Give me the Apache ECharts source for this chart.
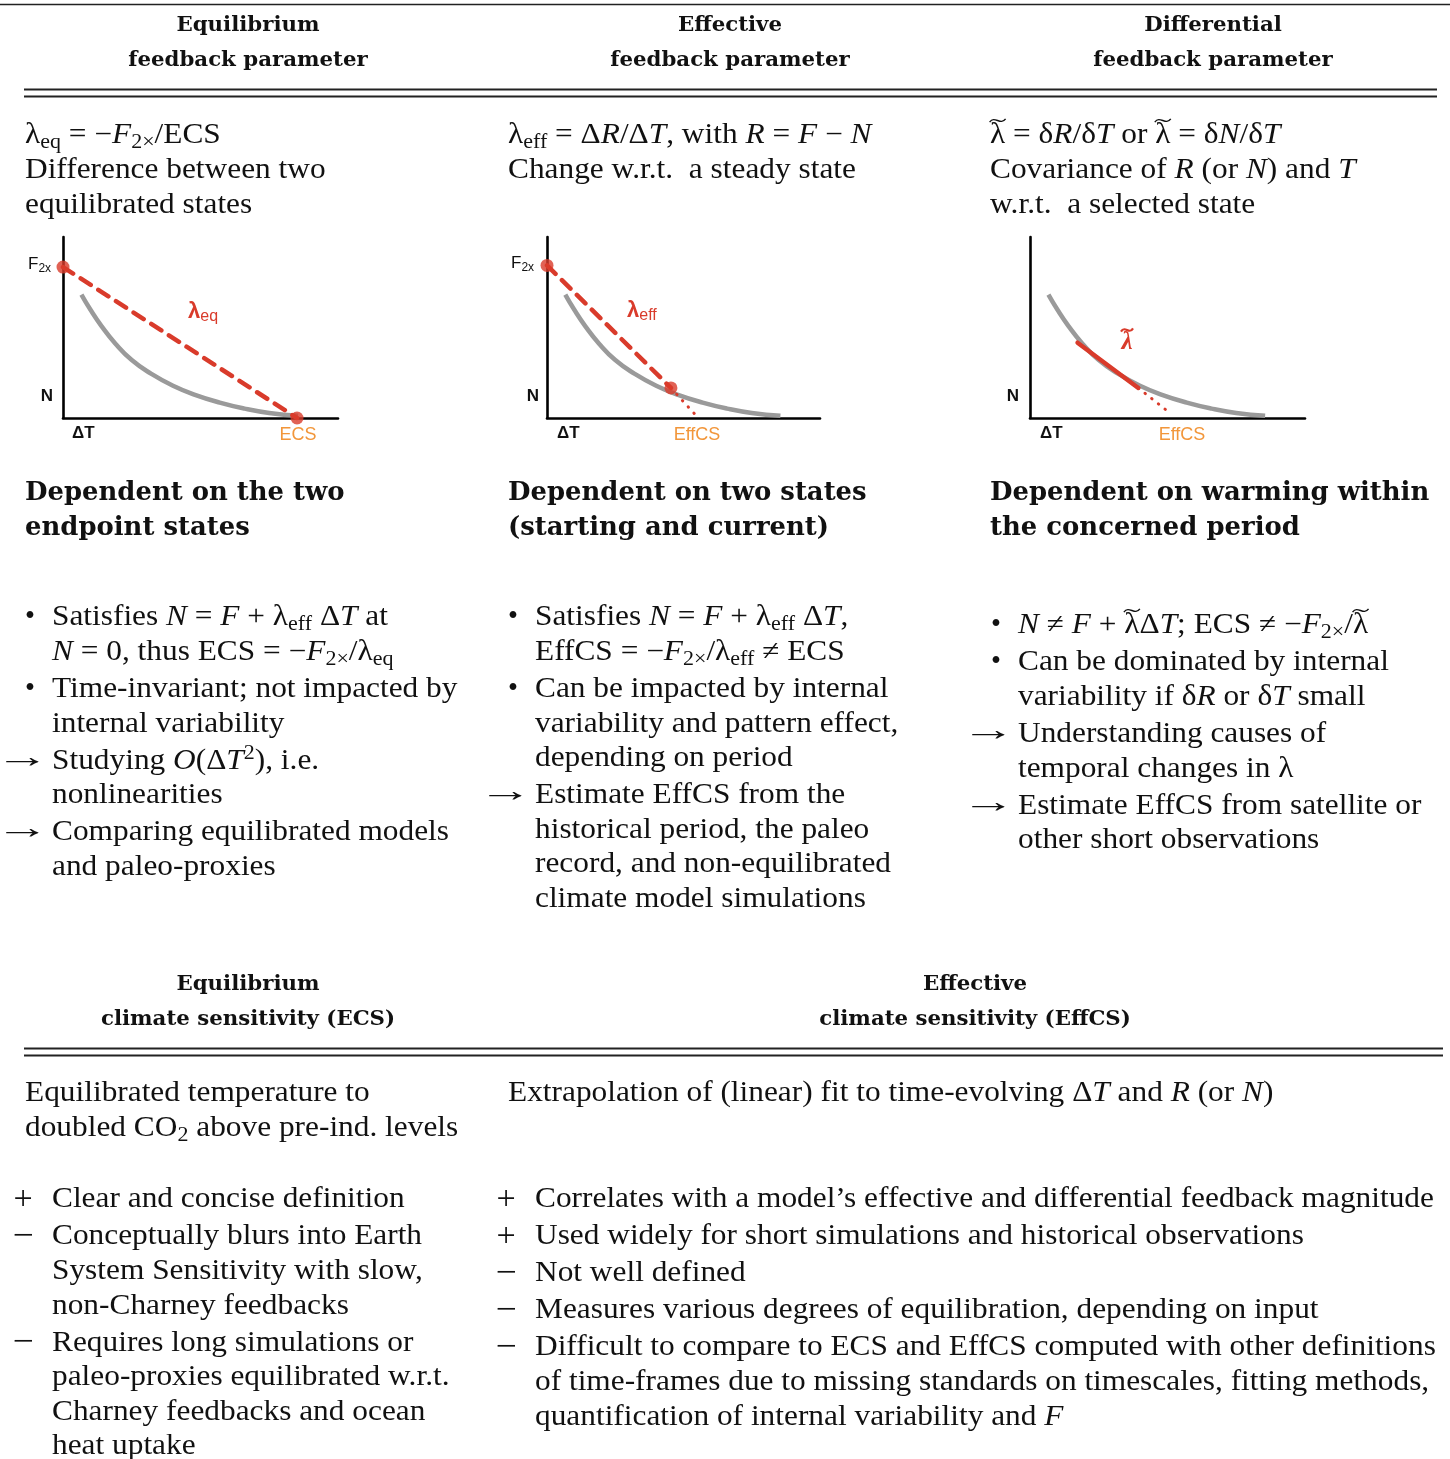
<!DOCTYPE html>
<html>
<head>
<meta charset="utf-8">
<script src="https://cdn.jsdelivr.net/npm/echarts@6/dist/echarts.min.js"></script>
<style>
  html, body { margin: 0; padding: 0; background: #fff; }
  #main { width: 1450px; height: 1459px; }
</style>
</head>
<body>
<div id="main"></div>
<script>
// ---- sketch data (both axes run 0..10, arbitrary units) ----
// radiative imbalance N against warming ΔT, shared by the three sketches
const responseCurve = [
  [0.67, 6.82], [1.0, 5.98], [1.4, 5.08], [1.9, 4.12], [2.5, 3.2],
  [3.2, 2.45], [4.0, 1.78], [4.8, 1.28], [5.7, 0.85], [6.6, 0.52],
  [7.5, 0.28], [8.55, 0.12]
];
// equilibrium: forcing intercept and equilibrium warming
const eqForcing = [0, 8.34];
const eqWarming = [8.51, 0];
// effective: forcing intercept, current state, extrapolation end
const effForcing = [0, 8.43];
const effState = [4.54, 1.66];
const effExtrapEnd = [5.40, 0.24];
// differential: local regression segment and its extrapolation end
const diffSegment = [[1.73, 4.16], [3.94, 1.66]];
const diffExtrapEnd = [5.15, 0.20];

// ---- table text ----
const topHeaders = [
  ['Equilibrium', 'feedback parameter'],
  ['Effective', 'feedback parameter'],
  ['Differential', 'feedback parameter']
];
const definitions = [
  ['λ{s|eq} = −{i|F}{s|2×}/ECS', 'Difference between two', 'equilibrated states'],
  ['λ{s|eff} = Δ{i|R}/Δ{i|T}, with {i|R} = {i|F} − {i|N}', 'Change w.r.t.  a steady state'],
  ['{t|λ} = δ{i|R}/δ{i|T} or {t|λ} = δ{i|N}/δ{i|T}', 'Covariance of {i|R} (or {i|N}) and {i|T}', 'w.r.t.  a selected state']
];
const dependence = [
  ['Dependent on the two', 'endpoint states'],
  ['Dependent on two states', '(starting and current)'],
  ['Dependent on warming within', 'the concerned period']
];
const feedbackProps = [
  [
    { mark: '•', lines: ['Satisfies {i|N} = {i|F} + λ{s|eff} Δ{i|T} at', '{i|N} = 0, thus ECS = −{i|F}{s|2×}/λ{s|eq}'] },
    { mark: '•', lines: ['Time-invariant; not impacted by', 'internal variability'] },
    { mark: '→', lines: ['Studying {i|O}(Δ{i|T}{p|2}), i.e.', 'nonlinearities'] },
    { mark: '→', lines: ['Comparing equilibrated models', 'and paleo-proxies'] }
  ],
  [
    { mark: '•', lines: ['Satisfies {i|N} = {i|F} + λ{s|eff} Δ{i|T},', 'EffCS = −{i|F}{s|2×}/λ{s|eff} ≠ ECS'] },
    { mark: '•', lines: ['Can be impacted by internal', 'variability and pattern effect,', 'depending on period'] },
    { mark: '→', lines: ['Estimate EffCS from the', 'historical period, the paleo', 'record, and non-equilibrated', 'climate model simulations'] }
  ],
  [
    { mark: '•', lines: ['{i|N} ≠ {i|F} + {t|λ}Δ{i|T}; ECS ≠ −{i|F}{s|2×}/{t|λ}'] },
    { mark: '•', lines: ['Can be dominated by internal', 'variability if δ{i|R} or δ{i|T} small'] },
    { mark: '→', lines: ['Understanding causes of', 'temporal changes in λ'] },
    { mark: '→', lines: ['Estimate EffCS from satellite or', 'other short observations'] }
  ]
];
const bottomHeaders = [
  ['Equilibrium', 'climate sensitivity (ECS)'],
  ['Effective', 'climate sensitivity (EffCS)']
];
const sensDefinitions = [
  ['Equilibrated temperature to', 'doubled CO{s|2} above pre-ind. levels'],
  ['Extrapolation of (linear) fit to time-evolving Δ{i|T} and {i|R} (or {i|N})']
];
const sensProps = [
  [
    { mark: '+', lines: ['Clear and concise definition'] },
    { mark: '−', lines: ['Conceptually blurs into Earth', 'System Sensitivity with slow,', 'non-Charney feedbacks'] },
    { mark: '−', lines: ['Requires long simulations or', 'paleo-proxies equilibrated w.r.t.', 'Charney feedbacks and ocean', 'heat uptake'] }
  ],
  [
    { mark: '+', lines: ['Correlates with a model’s effective and differential feedback magnitude'] },
    { mark: '+', lines: ['Used widely for short simulations and historical observations'] },
    { mark: '−', lines: ['Not well defined'] },
    { mark: '−', lines: ['Measures various degrees of equilibration, depending on input'] },
    { mark: '−', lines: ['Difficult to compare to ECS and EffCS computed with other definitions', 'of time-frames due to missing standards on timescales, fitting methods,', 'quantification of internal variability and {i|F}'] }
  ]
];

// ---- styling ----
const SERIF = '"Liberation Serif", "DejaVu Serif", serif';
const HEAD = '"DejaVu Serif", serif';
const SANS = '"Liberation Sans", Arial, sans-serif';
const INK = '#111';
const RED = '#d93b2b';
const ORANGE = '#f2963a';
const GRAY = '#9a9a9a';
const BODY = 28.5;
const BODY_SCALE = 1.1;
const SUB = Math.round(BODY * 0.7);

const baseFont = BODY + 'px ' + SERIF;
const bodyRich = {
  i: { font: 'italic ' + BODY + 'px ' + SERIF },
  t: { font: baseFont },
  s: { font: SUB + 'px ' + SERIF, verticalAlign: 'bottom', lineHeight: 18 },
  p: { font: SUB + 'px ' + SERIF, verticalAlign: 'top', lineHeight: 18 }
};

// width of a rich-markup string, used to put the tilde accents over λ
const measureCtx = document.createElement('canvas').getContext('2d');
function richWidth(markup) {
  let w = 0;
  const re = /\{(\w)\|([^}]*)\}|([^{]+)/g;
  let m;
  while ((m = re.exec(markup)) !== null) {
    measureCtx.font = m[1] ? bodyRich[m[1]].font : baseFont;
    w += measureCtx.measureText(m[1] ? m[2] : m[3]).width;
  }
  return w;
}
function tilde(cx, cy, half, color, width) {
  return {
    type: 'bezierCurve', silent: true, z: 11,
    shape: {
      x1: cx - half, y1: cy + 1.6, x2: cx + half, y2: cy - 1.6,
      cpx1: cx - half * 0.35, cpy1: cy - 5.5, cpx2: cx + half * 0.35, cpy2: cy + 5.5
    },
    style: { stroke: color, lineWidth: width, fill: null }
  };
}

function bodyText(x, y, text, out) {
  out.push({
    type: 'text', x: x, y: y, scaleX: BODY_SCALE, silent: true, z: 10,
    style: {
      text: text, font: baseFont, fill: INK,
      textAlign: 'left', textVerticalAlign: 'middle', lineHeight: 34, rich: bodyRich
    }
  });
  let idx = text.indexOf('{t|λ}');
  while (idx >= 0) {
    measureCtx.font = baseFont;
    const lw = measureCtx.measureText('λ').width;
    const cx = x + (richWidth(text.slice(0, idx)) + lw / 2) * BODY_SCALE;
    out.push(tilde(cx, y - 15.5, 8, INK, 1.4));
    idx = text.indexOf('{t|λ}', idx + 1);
  }
}
// list markers: bullet, arrow, plus, minus
const markStyle = {
  '•': { font: BODY + 'px ' + SERIF, scaleX: 1, offset: 22, dy: 0 },
  '→': { font: '32px ' + SERIF, scaleX: 1.7, offset: 30, dy: -3 },
  '+': { font: '34px ' + SERIF, scaleX: 1, offset: 29, dy: 0 },
  '−': { font: '34px ' + SERIF, scaleX: 1.1, offset: 29, dy: 0 }
};
function markText(x, y, mark) {
  const ms = markStyle[mark];
  return {
    type: 'text', x: x, y: y + ms.dy, scaleX: ms.scaleX, silent: true, z: 10,
    style: { text: mark, font: ms.font, fill: INK, textAlign: 'center', textVerticalAlign: 'middle' }
  };
}
function headText(x, y, text, size, align) {
  return {
    type: 'text', x: x, y: y, silent: true, z: 10,
    style: { text: text, font: 'bold ' + size + 'px ' + HEAD, fill: INK, textAlign: align, textVerticalAlign: 'middle' }
  };
}
function rule(x1, x2, y, w) {
  return { type: 'line', silent: true, shape: { x1: x1, y1: y, x2: x2, y2: y }, style: { stroke: '#222', lineWidth: w } };
}
function sansText(x, y, text, opts) {
  return {
    type: 'text', x: x, y: y, silent: true, z: 10,
    style: Object.assign({ text: text, fill: INK, textAlign: 'left', textVerticalAlign: 'middle' }, opts)
  };
}

function listBlock(items, textX, y0, out) {
  let y = y0;
  items.forEach(function (item, k) {
    if (k > 0) y += 37;
    item.lines.forEach(function (line, j) {
      if (j > 0) y += 34.6;
      if (j === 0) out.push(markText(textX - markStyle[item.mark].offset, y, item.mark));
      bodyText(textX, y, line, out);
    });
  });
}

const graphics = [];
// rules
graphics.push(rule(0, 1450, 4.5, 1.5));
graphics.push(rule(24, 1437, 89.5, 2));
graphics.push(rule(24, 1437, 96.5, 2));
graphics.push(rule(24, 1443, 1048.5, 2));
graphics.push(rule(24, 1443, 1055.5, 2));

// upper table
const headX = [248, 730, 1213];
const colX = [25, 508, 990];
const listX = [52, 535, 1018];
const HEAD_SIZE = 21.3;
const DEP_SIZE = 25.9;
topHeaders.forEach(function (h, c) {
  graphics.push(headText(headX[c], 25, h[0], HEAD_SIZE, 'center'));
  graphics.push(headText(headX[c], 60, h[1], HEAD_SIZE, 'center'));
});
definitions.forEach(function (lines, c) {
  lines.forEach(function (line, j) { bodyText(colX[c], 136 + j * 34.6, line, graphics); });
});
dependence.forEach(function (lines, c) {
  graphics.push(headText(colX[c], 493, lines[0], DEP_SIZE, 'left'));
  graphics.push(headText(colX[c], 528, lines[1], DEP_SIZE, 'left'));
});
listBlock(feedbackProps[0], listX[0], 618, graphics);
listBlock(feedbackProps[1], listX[1], 618, graphics);
listBlock(feedbackProps[2], listX[2], 626, graphics);

// lower table
const bHeadX = [248, 975];
bottomHeaders.forEach(function (h, c) {
  graphics.push(headText(bHeadX[c], 984, h[0], HEAD_SIZE, 'center'));
  graphics.push(headText(bHeadX[c], 1019, h[1], HEAD_SIZE, 'center'));
});
sensDefinitions.forEach(function (lines, c) {
  lines.forEach(function (line, j) { bodyText(colX[c], 1094 + j * 34.6, line, graphics); });
});
listBlock(sensProps[0], listX[0], 1200, graphics);
listBlock(sensProps[1], listX[1], 1200, graphics);

// sketch annotations
const axisFontBold = { font: 'bold 17px ' + SANS };
[[47, 72], [533, 557], [1013, 1040]].forEach(function (p) {
  graphics.push(sansText(p[0], 396, 'N', Object.assign({ textAlign: 'center' }, axisFontBold)));
  graphics.push(sansText(p[1], 433, 'ΔT', axisFontBold));
});
const forcingRich = { s: { font: '12px ' + SANS, fill: INK, verticalAlign: 'bottom', lineHeight: 12 } };
graphics.push(sansText(28, 264, 'F{s|2x}', { font: '17px ' + SANS, lineHeight: 22, rich: forcingRich }));
graphics.push(sansText(511, 263, 'F{s|2x}', { font: '17px ' + SANS, lineHeight: 22, rich: forcingRich }));
const lamRich = {
  l: { font: 'bold 22px ' + SANS, fill: RED },
  e: { font: '16px ' + SANS, fill: RED, verticalAlign: 'bottom', lineHeight: 16 }
};
graphics.push(sansText(188, 312, '{l|λ}{e|eq}', { fill: RED, lineHeight: 26, rich: lamRich }));
graphics.push(sansText(627, 311, '{l|λ}{e|eff}', { fill: RED, lineHeight: 26, rich: lamRich }));
graphics.push(sansText(1127, 343, 'λ', { fill: RED, font: 'bold italic 25px ' + SERIF, textAlign: 'center' }));
graphics.push(tilde(1127, 330, 6, RED, 2.2));
graphics.push(sansText(298, 435, 'ECS', { fill: ORANGE, font: '18px ' + SANS, textAlign: 'center' }));
graphics.push(sansText(697, 435, 'EffCS', { fill: ORANGE, font: '18px ' + SANS, textAlign: 'center' }));
graphics.push(sansText(1182, 435, 'EffCS', { fill: ORANGE, font: '18px ' + SANS, textAlign: 'center' }));

// ---- sketches ----
const grids = [
  { left: 63, top: 237, width: 275, height: 181 },
  { left: 547, top: 237, width: 273, height: 181 },
  { left: 1030, top: 237, width: 275, height: 181 }
];
function axis(i) {
  return {
    gridIndex: i, type: 'value', min: 0, max: 10,
    axisLine: { show: true, onZero: false, lineStyle: { color: '#000', width: 2.6 } },
    axisTick: { show: false }, axisLabel: { show: false }, splitLine: { show: false }
  };
}
function curve(i) {
  return {
    type: 'line', xAxisIndex: i, yAxisIndex: i, data: responseCurve, smooth: 0.5,
    showSymbol: false, silent: true, clip: false, z: 2,
    lineStyle: { color: GRAY, width: 4.5 }
  };
}
function redLine(i, data, width, type) {
  return {
    type: 'line', xAxisIndex: i, yAxisIndex: i, data: data, showSymbol: false, silent: true, clip: false, z: 3,
    lineStyle: { color: RED, width: width, type: type, cap: 'round' }
  };
}
function dots(i, data) {
  return {
    type: 'scatter', xAxisIndex: i, yAxisIndex: i, data: data, symbolSize: 13, silent: true, clip: false, z: 5,
    itemStyle: { color: RED }
  };
}

const series = [
  curve(0),
  redLine(0, [eqForcing, eqWarming], 4.5, [12, 9]),
  dots(0, [eqForcing, eqWarming]),
  curve(1),
  redLine(1, [effForcing, effState], 4.5, [12, 9]),
  redLine(1, [effState, effExtrapEnd], 3, [0.5, 8]),
  dots(1, [effForcing, effState]),
  curve(2),
  redLine(2, diffSegment, 4.5, 'solid'),
  redLine(2, [diffSegment[1], diffExtrapEnd], 3, [0.5, 8])
];

const chart = echarts.init(document.getElementById('main'), null, { renderer: 'canvas' });
chart.setOption({
  animation: false,
  backgroundColor: '#fff',
  grid: grids,
  xAxis: [axis(0), axis(1), axis(2)],
  yAxis: [axis(0), axis(1), axis(2)],
  series: series,
  graphic: { elements: graphics }
});
</script>
</body>
</html>
